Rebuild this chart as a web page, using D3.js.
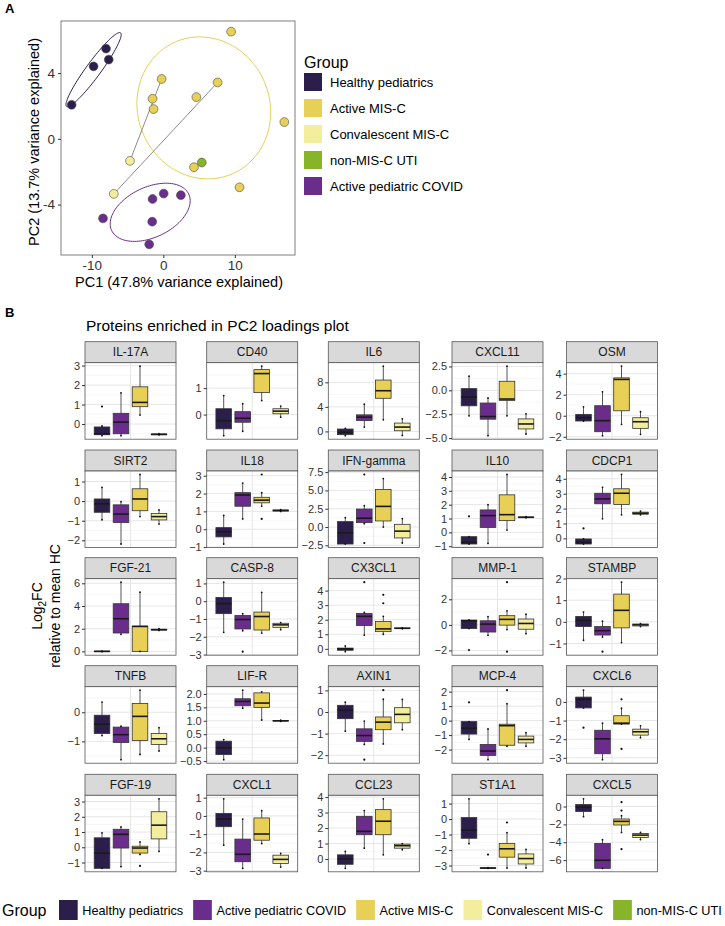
<!DOCTYPE html>
<html><head><meta charset="utf-8">
<script src="https://cdn.jsdelivr.net/npm/d3@7"></script>
<style>body{margin:0;background:#fff} svg{display:block;font-family:"Liberation Sans",Arial,Helvetica,sans-serif}</style>
</head><body><svg id="c" width="725" height="926"></svg>
<script>
// ---------- shared ----------
const groups = ["Healthy pediatrics","Active pediatric COVID","Active MIS-C","Convalescent MIS-C","non-MIS-C UTI"];
const groupColors = ["#2C1E4A","#6B2D8C","#E8CF55","#F3EE9E","#87B52A"];

// ---------- Panel A: PCA ----------
const pcaLegendOrder = ["Healthy pediatrics","Active MIS-C","Convalescent MIS-C","non-MIS-C UTI","Active pediatric COVID"];
const pcGroup = ["Healthy pediatrics","Healthy pediatrics","Healthy pediatrics","Healthy pediatrics",
  "Active MIS-C","Active MIS-C","Active MIS-C","Active MIS-C","Active MIS-C","Active MIS-C","Active MIS-C","Active MIS-C","Active MIS-C",
  "Convalescent MIS-C","Convalescent MIS-C","non-MIS-C UTI",
  "Active pediatric COVID","Active pediatric COVID","Active pediatric COVID","Active pediatric COVID","Active pediatric COVID","Active pediatric COVID"];
const pc1 = [-8.02,-9.76,-7.64,-12.83, 9.48,-0.24,7.59,-1.51,4.62,-1.37,16.93,4.29,10.66, -4.67,-6.93, 5.38, -1.51,0.05,2.45,-8.44,-1.56,-1.98];
const pc2 = [5.49,4.41,4.82,2.07, 6.52,3.64,3.43,2.44,2.54,1.81,1.02,-1.73,-2.95, -1.34,-3.35, -1.44, -3.66,-3.33,-3.43,-4.84,-5.04,-6.42];
const pairedSamples = [[5,13],[6,14]];
const ellipseGroup = ["Healthy pediatrics","Active MIS-C","Active pediatric COVID"];
const ellipseCenter = [[-9.76,4.21],[5.66,1.88],[-1.84,-4.47]];
const ellipseAxisU = [[3.77,2.24],[9.35,-0.4],[5.38,1.12]];
const ellipseAxisV = [[0.84,-0.26],[0.3,4.3],[1.54,-1.37]];
const pc1Ticks = [-10,0,10];
const pc2Ticks = [-4,0,4];

// ---------- Panel B: boxplots ----------
const proteins = ["IL-17A","CD40","IL6","CXCL11","OSM","SIRT2","IL18","IFN-gamma","IL10","CDCP1",
  "FGF-21","CASP-8","CX3CL1","MMP-1","STAMBP","TNFB","LIF-R","AXIN1","MCP-4","CXCL6",
  "FGF-19","CXCL1","CCL23","ST1A1","CXCL5"];
const boxGroups = ["Healthy pediatrics","Active pediatric COVID","Active MIS-C","Convalescent MIS-C"];
// [lower whisker, Q1, median, Q3, upper whisker]
const statsHealthy = [
  [-0.6,-0.55,-0.5,-0.15,-0.1],[-0.8,-0.54,-0.23,0.22,0.72],[-0.7,-0.53,-0.16,0.39,0.5],[-2.67,-1.62,-0.7,0.18,1.48],[-0.5,-0.5,-0.19,0.13,0.85],
  [-0.95,-0.57,-0.14,0.11,0.7],[-0.83,-0.43,-0.14,0.09,0.77],[-2.32,-2.32,-0.79,0.74,1.29],[-0.84,-0.84,-0.72,-0.31,-0.31],[-0.38,-0.38,-0.27,-0.04,-0.04],
  [-0.03,-0.02,0,0.02,0.03],[-1.75,-0.7,-0.13,0.21,1.07],[-0.2,-0.1,0,0.05,0.2],[-0.29,-0.29,0.32,0.38,0.38],[-0.85,-0.22,0.06,0.25,0.45],
  [-0.8,-0.73,-0.41,-0.1,0.35],[-0.45,-0.26,0,0.24,0.3],[-0.89,-0.31,0.08,0.31,0.45],[-1.3,-0.93,-0.53,-0.07,-0.07],[-0.32,-0.32,0.14,0.26,0.63],
  [-1.38,-1.38,-0.38,0.62,0.95],[-1.6,-0.59,-0.17,0.14,0.94],[-0.6,-0.34,0,0.27,0.49],[-1.59,-1.24,-0.72,0.1,1.31],[-1.13,-0.56,-0.08,0.23,0.87]];
const statsCovid = [
  [-0.6,-0.5,0.1,0.55,1.6],[-0.63,-0.29,-0.14,0.11,0.41],[0.71,1.78,2.33,2.7,4.43],[-4.75,-3.02,-2.74,-1.33,-0.8],[-1.9,-1.52,-0.47,0.95,2.27],
  [-2.19,-1.09,-0.66,-0.19,-0.03],[0.58,1.29,1.92,2.05,2.59],[0.46,0.6,1.21,2.46,2.92],[-0.8,0.36,1.21,1.62,2.0],[1.31,2.32,2.65,3.03,3.43],
  [1.5,1.62,2.88,4.2,6.1],[-1.66,-1.56,-1.03,-0.8,-0.7],[0.94,1.6,2.23,2.42,2.5],[-0.82,-0.56,0.06,0.32,0.64],[-0.7,-0.61,-0.41,-0.22,0.03],
  [-1.63,-1.04,-0.77,-0.51,-0.48],[1.47,1.56,1.72,1.82,2.14],[-1.5,-1.36,-1.09,-0.78,-0.42],[-2.7,-2.4,-2.1,-1.65,-0.58],[-3.1,-2.78,-1.98,-1.52,-1.14],
  [-1.27,-0.05,0.85,1.18,1.33],[-2.87,-2.51,-2.1,-1.27,-0.17],[0.7,1.57,1.79,2.76,3.13],[-3.18,-3.17,-3.16,-3.15,-3.14],[-6.92,-6.92,-6.02,-4.14,-3.72]];
const statsMisc = [
  [0.46,0.89,1.11,1.91,2.97],[0.53,0.83,1.55,1.7,1.83],[1.89,5.4,6.63,8.37,10.63],[-2.67,-1.06,-0.91,0.95,2.53],[-0.82,0.47,3.45,3.6,4.71],
  [-0.79,-0.49,0.11,0.63,1.36],[1.3,1.48,1.63,1.79,2.05],[0.0,0.83,2.82,5.14,6.62],[0.17,0.85,1.28,2.71,4.18],[1.58,2.27,3.03,3.33,4.29],
  [0.0,0.0,2.2,2.22,5.22],[-1.79,-1.62,-0.86,-0.61,0.5],[1.0,1.18,1.37,1.88,2.23],[-0.37,-0.02,0.43,0.72,1.1],[-0.96,-0.28,0.53,1.28,1.83],
  [-1.45,-0.97,-0.14,0.3,0.76],[1.03,1.5,1.66,2.04,2.08],[-1.48,-0.82,-0.47,-0.23,0.59],[-1.77,-1.7,-0.35,-0.25,1.17],[-1.19,-1.19,-1.14,-0.74,-0.34],
  [-0.47,-0.38,-0.05,0.07,0.35],[-1.51,-1.33,-0.99,-0.11,0.29],[0.27,1.57,2.44,3.19,3.89],[-3.16,-2.46,-1.92,-1.57,-0.87],[-2.9,-2.07,-1.66,-1.39,-1.02]];
const statsConv = [
  [-0.56,-0.55,-0.53,-0.51,-0.5],[-0.1,0.03,0.13,0.22,0.32],[-0.65,0.11,0.71,1.36,2.05],[-4.57,-4.04,-3.52,-2.99,-2.46],[-1.77,-1.2,-0.57,-0.19,0.38],
  [-1.17,-0.96,-0.79,-0.63,-0.45],[1.0,1.02,1.05,1.08,1.1],[-2.18,-1.49,-0.56,0.37,1.16],[1.05,1.07,1.09,1.11,1.13],[1.58,1.62,1.69,1.76,1.82],
  [1.85,1.88,1.91,1.95,2.0],[-1.6,-1.47,-1.33,-1.24,-1.2],[1.38,1.39,1.41,1.43,1.44],[-0.69,-0.34,0.11,0.46,0.83],[-0.22,-0.19,-0.14,-0.1,-0.08],
  [-1.33,-1.11,-0.91,-0.73,-0.53],[0.98,0.99,1.0,1.01,1.02],[-0.82,-0.5,-0.11,0.2,0.58],[-1.77,-1.54,-1.3,-1.07,-0.84],[-1.92,-1.78,-1.6,-1.46,-1.28],
  [-0.27,0.55,1.45,2.33,3.18],[-2.8,-2.6,-2.38,-2.15,-2.05],[0.6,0.7,0.86,0.96,1.0],[-3.16,-2.9,-2.55,-2.25,-1.96],[-3.7,-3.46,-3.2,-3.01,-2.9]];
// [protein index, group index, value]
const outlierPoints = [
  [0,0,0.9],[6,2,3.07],[6,2,0.58],[7,1,7.18],[7,1,-2.18],[8,0,1.16],[9,0,0.67],
  [11,1,-2.84],[12,1,4.58],[12,2,3.71],[12,2,3.13],[13,0,-1.97],[13,2,3.34],[13,2,-2.1],[14,1,-1.38],
  [17,1,-2.21],[17,2,1.01],[18,0,1.26],[18,2,2.1],[19,0,-1.38],[19,2,0.14],[19,2,-2.52],
  [20,2,-1.22],[23,1,-2.29],[23,2,-0.22],[24,2,0.49],[24,2,-0.45],[24,2,-4.78]];
const yTicks = [
  [0,1,2,3],[0,1],[0,4,8],[-5,-2.5,0,2.5],[-2,0,2,4],
  [-2,-1,0,1],[-1,0,1,2,3],[-2.5,0,2.5,5,7.5],[-1,0,1,2,3,4],[0,1,2,3,4],
  [0,2,4,6],[-3,-2,-1,0,1],[0,1,2,3,4],[-2,0,2],[-1,0,1,2],
  [-1,0],[-0.5,0,0.5,1,1.5,2],[-2,-1,0,1],[-2,-1,0,1,2],[-3,-2,-1,0],
  [-1,0,1,2,3],[-3,-2,-1,0,1],[0,1,2,3,4],[-3,-2,-1,0,1],[-6,-4,-2,0]];

const colorOf = g => groupColors[groups.indexOf(g)];
const svg = d3.select("#c");
const minus = s => String(s).replace("-", "\u2212");

// ================= PANEL A =================
svg.append("text").attr("x",5).attr("y",13).text("A").style("font-size","13px").style("font-weight","bold");
const A = {l:61, r:295, t:21, b:255};
function padExt(v){ const e=d3.extent(v); const p=(e[1]-e[0])*0.05; return [e[0]-p,e[1]+p]; }
const xA = d3.scaleLinear().domain(padExt(pc1)).range([A.l,A.r]);
const yA = d3.scaleLinear().domain(padExt(pc2)).range([A.b,A.t]);
const gA = svg.append("g");
gA.append("rect").attr("x",A.l).attr("y",A.t).attr("width",A.r-A.l).attr("height",A.b-A.t).attr("fill","#fff");
const tSteps = d3.range(0,361,3).map(d=>d*Math.PI/180);
ellipseGroup.forEach((g,i)=>{
  const pts = tSteps.map(t=>[
    xA(ellipseCenter[i][0]+ellipseAxisU[i][0]*Math.cos(t)+ellipseAxisV[i][0]*Math.sin(t)),
    yA(ellipseCenter[i][1]+ellipseAxisU[i][1]*Math.cos(t)+ellipseAxisV[i][1]*Math.sin(t))]);
  gA.append("path").attr("d",d3.line()(pts)).attr("fill","none").attr("stroke",colorOf(g)).attr("stroke-width",1);
});
pairedSamples.forEach(([a,b])=>{
  gA.append("line").attr("x1",xA(pc1[a])).attr("y1",yA(pc2[a])).attr("x2",xA(pc1[b])).attr("y2",yA(pc2[b]))
    .attr("stroke","#8c8c8c").attr("stroke-width",1);
});
pc1.forEach((v,i)=>{
  gA.append("circle").attr("cx",xA(v)).attr("cy",yA(pc2[i])).attr("r",4.4)
    .attr("fill",colorOf(pcGroup[i])).attr("stroke","#4a4a4a").attr("stroke-width",0.6);
});
gA.append("rect").attr("x",A.l).attr("y",A.t).attr("width",A.r-A.l).attr("height",A.b-A.t)
  .attr("fill","none").attr("stroke","#7f7f7f").attr("stroke-width",1);
const axA1 = gA.append("g").attr("transform",`translate(0,${A.b})`)
  .call(d3.axisBottom(xA).tickValues(pc1Ticks).tickSize(3).tickPadding(2).tickFormat(d=>d));
const axA2 = gA.append("g").attr("transform",`translate(${A.l},0)`)
  .call(d3.axisLeft(yA).tickValues(pc2Ticks).tickSize(3).tickPadding(3).tickFormat(d=>d));
[axA1,axA2].forEach(a=>{ a.select(".domain").remove(); a.selectAll("line").attr("stroke","#333");
  a.selectAll("text").style("font-size","13.5px").attr("fill","#333").style("font-family","inherit"); });
svg.append("text").attr("x",(A.l+A.r)/2+1).attr("y",287).attr("text-anchor","middle")
  .text("PC1 (47.8% variance explained)").style("font-size","14.5px");
svg.append("text").attr("transform",`translate(39,${(A.t+A.b)/2+4}) rotate(-90)`).attr("text-anchor","middle")
  .text("PC2 (13.7% variance explained)").style("font-size","14.5px");
svg.append("text").attr("x",304).attr("y",68).text("Group").style("font-size","16px");
pcaLegendOrder.forEach((g,i)=>{
  const yy = 82 + i*26;
  svg.append("rect").attr("x",304).attr("y",yy-9).attr("width",18).attr("height",18).attr("fill",colorOf(g));
  svg.append("text").attr("x",330).attr("y",yy+4.5).text(g).style("font-size","13px");
});

// ================= PANEL B =================
svg.append("text").attr("x",5).attr("y",317).text("B").style("font-size","13px").style("font-weight","bold");
svg.append("text").attr("x",86).attr("y",331).text("Proteins enriched in PC2 loadings plot").style("font-size","15.5px");
const colX = [85, 206.7, 328.3, 452, 566.5];
const rowY = [341.7, 450, 557.7, 665.7, 774.3];
const panelW = 91, stripH = 21, panelH = 76.5;
const allStats = [statsHealthy, statsCovid, statsMisc, statsConv];

proteins.forEach((p,pi)=>{
  const px = colX[pi%5], py = rowY[Math.floor(pi/5)];
  const g = svg.append("g").attr("transform",`translate(${px},${py})`);
  let vals = [];
  allStats.forEach(s=>{ vals.push(s[pi][0], s[pi][4]); });
  outlierPoints.filter(o=>o[0]===pi).forEach(o=>vals.push(o[2]));
  const y = d3.scaleLinear().domain(padExt(vals)).range([stripH+panelH, stripH]);
  const x = d3.scaleBand().domain(boxGroups).range([panelW/2-38, panelW/2+38]);
  g.append("rect").attr("x",0).attr("y",0).attr("width",panelW).attr("height",stripH)
    .attr("fill","#D9D9D9").attr("stroke","#555").attr("stroke-width",0.8);
  g.append("text").attr("x",panelW/2).attr("y",stripH/2+4.3).attr("text-anchor","middle")
    .text(p).style("font-size","12px").attr("fill","#1a1a1a");
  g.append("rect").attr("x",0).attr("y",stripH).attr("width",panelW).attr("height",panelH).attr("fill","#fff");
  const ticks = yTicks[pi];
  const step = ticks[1]-ticks[0];
  const dom = y.domain();
  const minors = [];
  for (let v = ticks[0]-step/2; v <= dom[1]; v += step) if (v >= dom[0]) minors.push(v);
  minors.forEach(v=>g.append("line").attr("x1",0).attr("x2",panelW).attr("y1",y(v)).attr("y2",y(v))
    .attr("stroke","#F2F2F2").attr("stroke-width",0.6));
  ticks.forEach(v=>g.append("line").attr("x1",0).attr("x2",panelW).attr("y1",y(v)).attr("y2",y(v))
    .attr("stroke","#E6E6E6").attr("stroke-width",1));
  g.append("line").attr("x1",panelW/2).attr("x2",panelW/2).attr("y1",stripH).attr("y2",stripH+panelH)
    .attr("stroke","#E6E6E6").attr("stroke-width",1);
  const bw = x.bandwidth()*0.82;
  boxGroups.forEach((bg,gi)=>{
    const s = allStats[gi][pi];
    const cx = x(bg)+x.bandwidth()/2;
    g.append("line").attr("x1",cx).attr("x2",cx).attr("y1",y(s[0])).attr("y2",y(s[4])).attr("stroke","#2b2b2b").attr("stroke-width",0.8);
    g.append("rect").attr("x",cx-bw/2).attr("y",y(s[3])).attr("width",bw).attr("height",Math.max(y(s[1])-y(s[3]),0.5))
      .attr("fill",colorOf(bg)).attr("stroke","#333").attr("stroke-width",0.8);
    g.append("line").attr("x1",cx-bw/2).attr("x2",cx+bw/2).attr("y1",y(s[2])).attr("y2",y(s[2])).attr("stroke","#1a1a1a").attr("stroke-width",1.6);
    // whisker-end data points
    [s[0],s[4]].forEach(v=>g.append("circle").attr("cx",cx).attr("cy",y(v)).attr("r",0.9).attr("fill","#111"));
  });
  outlierPoints.filter(o=>o[0]===pi).forEach(o=>{
    const cx = x(boxGroups[o[1]])+x.bandwidth()/2;
    g.append("circle").attr("cx",cx).attr("cy",y(o[2])).attr("r",1.1).attr("fill","#111");
  });
  g.append("rect").attr("x",0).attr("y",stripH).attr("width",panelW).attr("height",panelH)
    .attr("fill","none").attr("stroke","#555").attr("stroke-width",0.8);
  const dec = ticks.some(t=>!Number.isInteger(t)) ? 1 : 0;
  const ax = g.append("g").call(d3.axisLeft(y).tickValues(ticks).tickSize(3).tickPadding(2)
    .tickFormat(d=>minus(d.toFixed(dec))));
  ax.select(".domain").remove();
  ax.selectAll("line").attr("stroke","#333");
  ax.selectAll("text").style("font-size","11px").attr("fill","#333").style("font-family","inherit");
});
const yl = svg.append("text").attr("transform",`translate(42,606) rotate(-90)`).attr("text-anchor","middle").style("font-size","14px");
yl.append("tspan").text("Log");
yl.append("tspan").text("2").style("font-size","10px").attr("dy",4);
yl.append("tspan").text("FC").attr("dy",-4);
svg.append("text").attr("transform",`translate(60,606) rotate(-90)`).attr("text-anchor","middle").style("font-size","14px")
  .text("relative to mean HC");

const legY = 910;
svg.append("text").attr("x",2).attr("y",legY+5.5).text("Group").style("font-size","16px");
let lx = 59;
groups.forEach((g,i)=>{
  svg.append("rect").attr("x",lx).attr("y",legY-10).attr("width",18.7).attr("height",20).attr("fill",groupColors[i]);
  const t = svg.append("text").attr("x",lx+23.3).attr("y",legY+4.5).text(g).style("font-size","12.7px");
  lx = lx + 23.3 + t.node().getComputedTextLength() + 10;
});
</script></body></html>
